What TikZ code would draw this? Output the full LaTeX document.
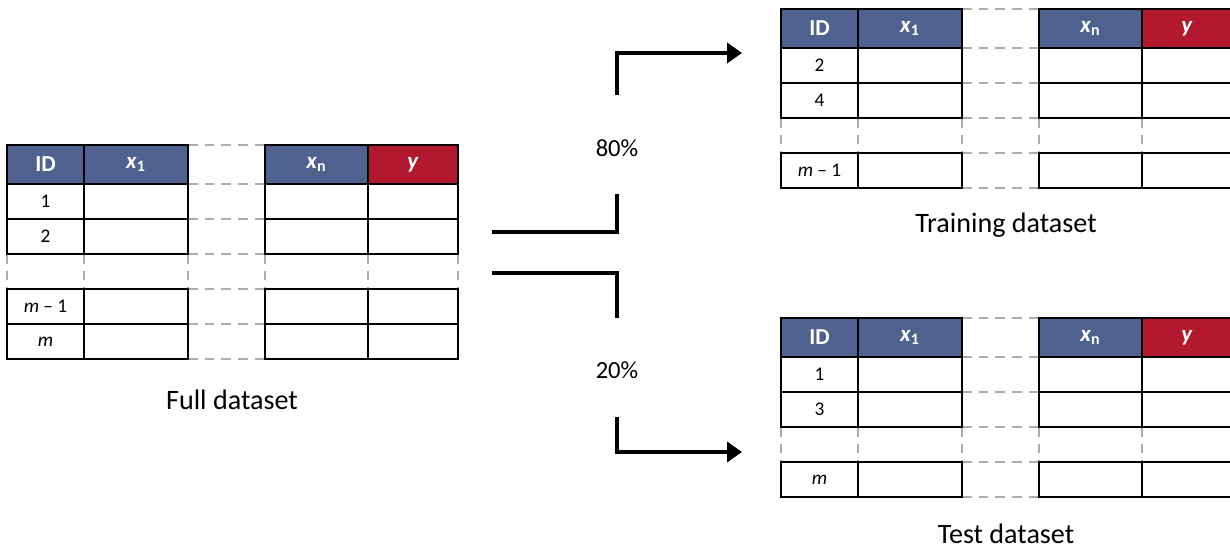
\documentclass[tikz,border=0pt]{standalone}
\usepackage{fontspec}
\setmainfont{Carlito}
\usetikzlibrary{arrows.meta}

\definecolor{hdblue}{RGB}{79,98,143}
\definecolor{hdred}{RGB}{178,24,46}
\definecolor{gapgray}{RGB}{172,172,172}

\tikzset{
  cellbox/.style={draw=black, line width=1.1pt},
  gapline/.style={draw=gapgray, line width=1.1pt, dash pattern=on 5.5pt off 4pt},
  hdtext/.style={text=white, font=\fontsize{13}{15}\selectfont\bfseries},
  celltext/.style={font=\fontsize{11}{13}\selectfont},
  pcttext/.style={font=\fontsize{14}{16}\selectfont},
  captext/.style={font=\fontsize{16}{19}\selectfont},
  split/.style={line width=2.3pt, line join=miter},
}

% #1 name, #2 left, #3 top, #4 body rows, #5 skipped row, #6 row/label list
\newcommand{\datatable}[6]{%
  % skipped row and the column gap
  \pgfmathsetmacro{\gt}{#3+39+35*(#5-1)}
  \foreach \cx in {0,77,181,258,361,451}
    \draw[gapline] ({#2+\cx},\gt) -- ++(0,35);
  \draw[gapline] ({#2+181},#3) -- ++(77,0);
  \foreach \k in {0,...,#4}
    \draw[gapline] ({#2+181},{#3+39+35*\k}) -- ++(77,0);
  % header
  \foreach \cx/\cw/\ccol/\ctxt [count=\c] in {0/77/hdblue/{ID},
      77/104/hdblue/{\textit{x}\textsubscript{1}},
      258/103/hdblue/{\textit{x}\textsubscript{n}},
      361/90/hdred/{\textit{y}}} {
    \draw[cellbox, fill=\ccol] ({#2+\cx},#3) rectangle ++(\cw,39);
    \node[hdtext] (#1-h\c) at ({#2+\cx+\cw/2},{#3+19.5}) {\ctxt};
  }
  % body
  \foreach \r/\lab in {#6} {
    \pgfmathsetmacro{\rt}{#3+39+35*(\r-1)}
    \foreach \cx/\cw in {0/77, 77/104, 258/103, 361/90}
      \draw[cellbox] ({#2+\cx},\rt) rectangle ++(\cw,35);
    \node[celltext] (#1-r\r) at ({#2+38.5},{\rt+17.5}) {\lab};
  }
}

\begin{document}
\begin{tikzpicture}[x=0.02cm, y=-0.02cm, >={Triangle[length=0.3cm, width=0.4cm]}]
    \useasboundingbox (0,0) rectangle (1230,550);

    \datatable{full}{7}{145}{5}{3}{1/1, 2/2, 4/{{\itshape m} – 1}, 5/{\itshape m}}
    \datatable{train}{781}{9}{4}{3}{1/2, 2/4, 4/{{\itshape m} – 1}}
    \datatable{test}{781}{318}{4}{3}{1/1, 2/3, 4/{\itshape m}}

    \node[captext] (full-cap) at (232,400) {Full dataset};
    \node[captext] (train-cap) at (1006,225) {Training dataset};
    \node[captext] (test-cap) at (1006,534) {Test dataset};

    \node[pcttext] (p80) at (617,148) {80\%};
    \node[pcttext] (p20) at (617,370) {20\%};

    % split arrows
    \coordinate (full-out1) at (492,232);
    \coordinate (full-out2) at (492,273);
    \coordinate (lo80) at (617,194);
    \coordinate (hi80) at (617,95);
    \coordinate (hi20) at (617,318);
    \coordinate (lo20) at (617,417);
    \coordinate (train-in) at (742,53);
    \coordinate (test-in) at (742,452);

    \draw[split] (full-out1) -| (lo80);
    \draw[split, ->] (hi80) |- (train-in);
    \draw[split] (full-out2) -| (hi20);
    \draw[split, ->] (lo20) |- (test-in);
\end{tikzpicture}
\end{document}
